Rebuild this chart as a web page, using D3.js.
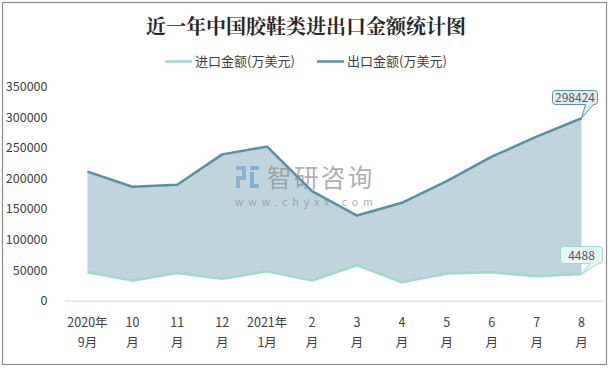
<!DOCTYPE html>
<html><head><meta charset="utf-8">
<script src="https://cdn.jsdelivr.net/npm/d3@7"></script>
<style>body{margin:0;background:#fff;}svg{display:block;}</style>
</head><body>
<svg id="c" width="611" height="369"></svg>
<script>
const categories = ["2020年|9月","10|月","11|月","12|月","2021年|1月","2|月","3|月","4|月","5|月","6|月","7|月","8|月"];
const importValues = [46400, 32800, 45400, 36000, 48000, 32800, 57900, 30000, 44300, 46400, 39800, 43500];
const exportValues = [211000, 186400, 189600, 239300, 252000, 179200, 139300, 160100, 195600, 235500, 268300, 298424];
const yTicks = [0, 50000, 100000, 150000, 200000, 250000, 300000, 350000];
const seriesNames = ["进口金额(万美元)", "出口金额(万美元)"];
const endLabels = ["4488", "298424"];

const svg = d3.select("#c");
const font = "'Noto Sans CJK SC','Microsoft YaHei',sans-serif";
svg.append("rect").attr("x",2.5).attr("y",2.5).attr("width",604).attr("height",362)
  .attr("fill","#fff").attr("stroke","#8c8c8c").attr("stroke-width",1.2);

const x = d3.scaleBand().domain(categories).range([65,604]);
const y = d3.scaleLinear().domain([0,350000]).range([300.7,86.7]);
const cx = d => x(d) + x.bandwidth()/2;

// title
svg.append("text").attr("x",306).attr("y",34).attr("text-anchor","middle")
  .attr("font-family","'Noto Serif CJK SC','Noto Sans CJK SC',serif").attr("font-weight","bold")
  .attr("font-size",20).attr("fill","#262626").text("近一年中国胶鞋类进出口金额统计图");

// legend
const legend = [{n:seriesNames[0],c:"#9fd9d6",x:165},{n:seriesNames[1],c:"#5b8fa3",x:317}];
legend.forEach(l=>{
  svg.append("line").attr("x1",l.x).attr("x2",l.x+27).attr("y1",61.5).attr("y2",61.5)
    .attr("stroke",l.c).attr("stroke-width",2.5);
  svg.append("text").attr("x",l.x+30).attr("y",66.2).attr("font-family",font).attr("font-size",13)
    .attr("fill","#404040").text(l.n);
});

// area between series
const idx = d3.range(categories.length);
const area = d3.area().x(i=>cx(categories[i])).y0(i=>y(importValues[i])).y1(i=>y(exportValues[i]));
svg.append("path").datum(idx).attr("d",area).attr("fill","#bfd4dd");

// watermark
const wm = svg.append("g");
wm.append("rect").attr("x",236).attr("y",166).attr("width",10).attr("height",4).attr("fill","#8fb0d2");
wm.append("rect").attr("x",242).attr("y",170).attr("width",4).attr("height",6).attr("fill","#8fb0d2");
wm.append("rect").attr("x",236).attr("y",176).attr("width",10).attr("height",4).attr("fill","#8fb0d2");
wm.append("rect").attr("x",236).attr("y",180).attr("width",4).attr("height",8).attr("fill","#8fb0d2");
wm.append("rect").attr("x",250).attr("y",166).attr("width",9).attr("height",4).attr("fill","#7fb0d8");
wm.append("rect").attr("x",250).attr("y",172).attr("width",4).attr("height",16).attr("fill","#7fb0d8");
wm.append("rect").attr("x",250).attr("y",184).attr("width",9).attr("height",4).attr("fill","#7fb0d8");
wm.append("text").attr("x",267).attr("y",186.5).attr("font-family",font).attr("font-size",24.5)
  .attr("letter-spacing",2.4).attr("fill","#8e9399").attr("fill-opacity",0.75).text("智研咨询");
wm.append("text").attr("x",235).attr("y",206).attr("font-family",font).attr("font-size",10.5)
  .attr("letter-spacing",4.9).attr("fill","#8e9399").attr("fill-opacity",0.75).text("www.chyxx.com");

// lines
const lineGen = vals => d3.line().x(i=>cx(categories[i])).y(i=>y(vals[i]));
svg.append("path").datum(idx).attr("d",lineGen(importValues)).attr("fill","none")
  .attr("stroke","#9fd9d6").attr("stroke-width",2.5).attr("stroke-linejoin","round");
svg.append("path").datum(idx).attr("d",lineGen(exportValues)).attr("fill","none")
  .attr("stroke","#5b8fa3").attr("stroke-width",2.5).attr("stroke-linejoin","round");

// x axis baseline
svg.append("line").attr("x1",65).attr("x2",604).attr("y1",y(0)+0.5).attr("y2",y(0)+0.5)
  .attr("stroke","#d9d9d9").attr("stroke-width",1);

// y axis labels
const yAxis = svg.append("g").attr("transform","translate(47.5,0)")
  .call(d3.axisLeft(y).tickValues(yTicks).tickSize(0).tickPadding(0).tickFormat(d3.format("d")));
yAxis.select(".domain").remove();
yAxis.selectAll("text").attr("font-family",font).attr("font-size",12.5).attr("fill","#404040");

// x axis labels
const xAxis = svg.append("g").attr("transform",`translate(0,${y(0)})`)
  .call(d3.axisBottom(x).tickSize(0).tickFormat(""));
xAxis.select(".domain").remove();
xAxis.selectAll(".tick").each(function(d){
  const parts = d.split("|");
  const t = d3.select(this).append("text").attr("font-family",font).attr("font-size",12.5)
    .attr("fill","#404040").attr("text-anchor","middle");
  t.append("tspan").attr("x",0).attr("y",26).text(parts[0]);
  t.append("tspan").attr("x",0).attr("y",46).text(parts[1]);
});

// end callouts
function callout(px, py, bx, by, bw, bh, txt, fill, stroke){
  const g = svg.append("g");
  const r = 3;
  const tipX1 = bx+bw-12, tipX2 = bx+bw-4;
  const p = `M${bx+r},${by} H${bx+bw-r} Q${bx+bw},${by} ${bx+bw},${by+r} V${by+bh-r} Q${bx+bw},${by+bh} ${bx+bw-r},${by+bh}
    H${tipX2} L${px},${py} L${tipX1},${by+bh} H${bx+r} Q${bx},${by+bh} ${bx},${by+bh-r} V${by+r} Q${bx},${by} ${bx+r},${by} Z`;
  g.append("path").attr("d",p).attr("fill",fill).attr("stroke",stroke).attr("stroke-width",1);
  g.append("text").attr("x",bx+bw/2).attr("y",by+bh/2+4.5).attr("text-anchor","middle")
    .attr("font-family",font).attr("font-size",12).attr("fill","#595959").text(txt);
}
const li = categories.length-1;
callout(cx(categories[li]), y(exportValues[li]), 552.5, 90.5, 45, 14, endLabels[1], "#e2ecf0", "#5b8fa3");
callout(cx(categories[li]), y(importValues[li]), 560.5, 246.5, 42, 17, endLabels[0], "#e8f6f5", "#9fd9d6");
</script>
</body></html>
